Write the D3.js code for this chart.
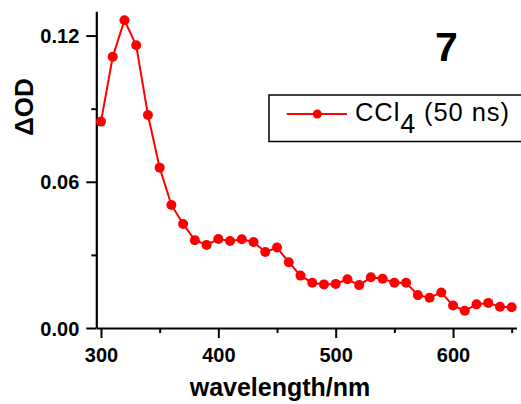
<!DOCTYPE html>
<html><head><meta charset="utf-8">
<script src="https://cdn.jsdelivr.net/npm/d3@7"></script>
<style>body{margin:0;background:#fff}svg{display:block}</style>
</head><body>
<script>
const wavelengths = [300,310,320,330,340,350,360,370,380,390,400,410,420,430,440,450,460,470,480,490,500,510,520,530,540,550,560,570,580,590,600,610,620,630,640,650];
const deltaOD = [0.0847,0.1113,0.1263,0.1160,0.0874,0.0658,0.0505,0.0427,0.0360,0.0341,0.0365,0.0357,0.0364,0.0353,0.0312,0.0330,0.0270,0.0215,0.0186,0.0179,0.0181,0.0200,0.0176,0.0208,0.0202,0.0186,0.0186,0.0135,0.0124,0.0146,0.0092,0.0071,0.0097,0.0103,0.0087,0.0085];
const xMajorTicks = [300,400,500,600];
const xMinorTicks = [350,450,550,650];
const yMajorTicks = [0.00,0.06,0.12];
const yMinorTicks = [0.03,0.09];
const seriesLabel = "CCl";
const seriesSub = "4";
const seriesSuffix = " (50 ns)";
const panelLabel = "7";

const W = 521, H = 404;
const svg = d3.select("body").append("svg").attr("width", W).attr("height", H);
const x = d3.scaleLinear().domain([296, 654]).range([96.3, 516.4]);
const y = d3.scaleLinear().domain([0, 0.13]).range([328, 11.2]);
const font = "Arial, 'Liberation Sans', Helvetica, sans-serif";

// axes
const gx = svg.append("g").attr("transform", "translate(0,328)");
gx.call(d3.axisBottom(x).tickValues(xMajorTicks).tickSize(10).tickSizeOuter(0).tickFormat(d3.format("d")));
const gxm = svg.append("g").attr("transform", "translate(0,328)");
gxm.call(d3.axisBottom(x).tickValues(xMinorTicks).tickSize(5).tickSizeOuter(0).tickFormat(""));
gxm.select(".domain").remove();
const gy = svg.append("g").attr("transform", "translate(96.3,0)");
gy.call(d3.axisLeft(y).tickValues(yMajorTicks).tickSize(10).tickSizeOuter(0).tickFormat(d3.format(".2f")));
const gym = svg.append("g").attr("transform", "translate(96.3,0)");
gym.call(d3.axisLeft(y).tickValues(yMinorTicks).tickSize(5).tickSizeOuter(0).tickFormat(""));
gym.select(".domain").remove();

svg.selectAll(".domain").attr("stroke", "#000").attr("stroke-width", 2.2);
svg.selectAll(".tick line").attr("stroke", "#000").attr("stroke-width", 2);
svg.selectAll(".tick text").attr("font-family", font).attr("font-weight", "bold").attr("font-size", 20).attr("fill", "#000");
gx.selectAll(".tick text").attr("dy", null).attr("y", 34);
gy.selectAll(".tick text").attr("x", -17).attr("dy", "0.36em");

// line + markers
const line = d3.line().x((d, i) => x(wavelengths[i])).y(d => y(d));
svg.append("path").datum(deltaOD).attr("d", line).attr("fill", "none").attr("stroke", "#ff0000").attr("stroke-width", 2);
svg.append("g").selectAll("circle").data(deltaOD).join("circle")
  .attr("cx", (d, i) => x(wavelengths[i])).attr("cy", d => y(d)).attr("r", 5).attr("fill", "#ff0000");

// axis titles
svg.append("text").attr("x", 280).attr("y", 396).attr("text-anchor", "middle")
  .attr("font-family", font).attr("font-weight", "bold").attr("font-size", 25).text("wavelength/nm");
svg.append("text").attr("transform", "translate(32.5,107) rotate(-90)").attr("text-anchor", "middle")
  .attr("font-family", font).attr("font-weight", "bold").attr("font-size", 26).text("\u0394OD");

// panel label
svg.append("text").attr("x", 446.5).attr("y", 60.7).attr("text-anchor", "middle")
  .attr("font-family", font).attr("font-weight", "bold").attr("font-size", 41).text(panelLabel);

// legend
const lg = svg.append("g");
lg.append("rect").attr("x", 269).attr("y", 95).attr("width", 260).attr("height", 46.5)
  .attr("fill", "none").attr("stroke", "#000").attr("stroke-width", 1.5);
lg.append("line").attr("x1", 286.7).attr("x2", 347).attr("y1", 114).attr("y2", 114)
  .attr("stroke", "#ff0000").attr("stroke-width", 2);
lg.append("circle").attr("cx", 317.3).attr("cy", 114).attr("r", 4.5).attr("fill", "#ff0000");
const lt = lg.append("text").attr("x", 355).attr("y", 120.5).attr("font-family", font).attr("font-size", 25.5).attr("letter-spacing", 0.9);
lt.append("tspan").text(seriesLabel);
lt.append("tspan").attr("dy", 12).attr("font-size", 27).text(seriesSub);
lt.append("tspan").attr("dy", -12).text(seriesSuffix);
</script>
</body></html>
